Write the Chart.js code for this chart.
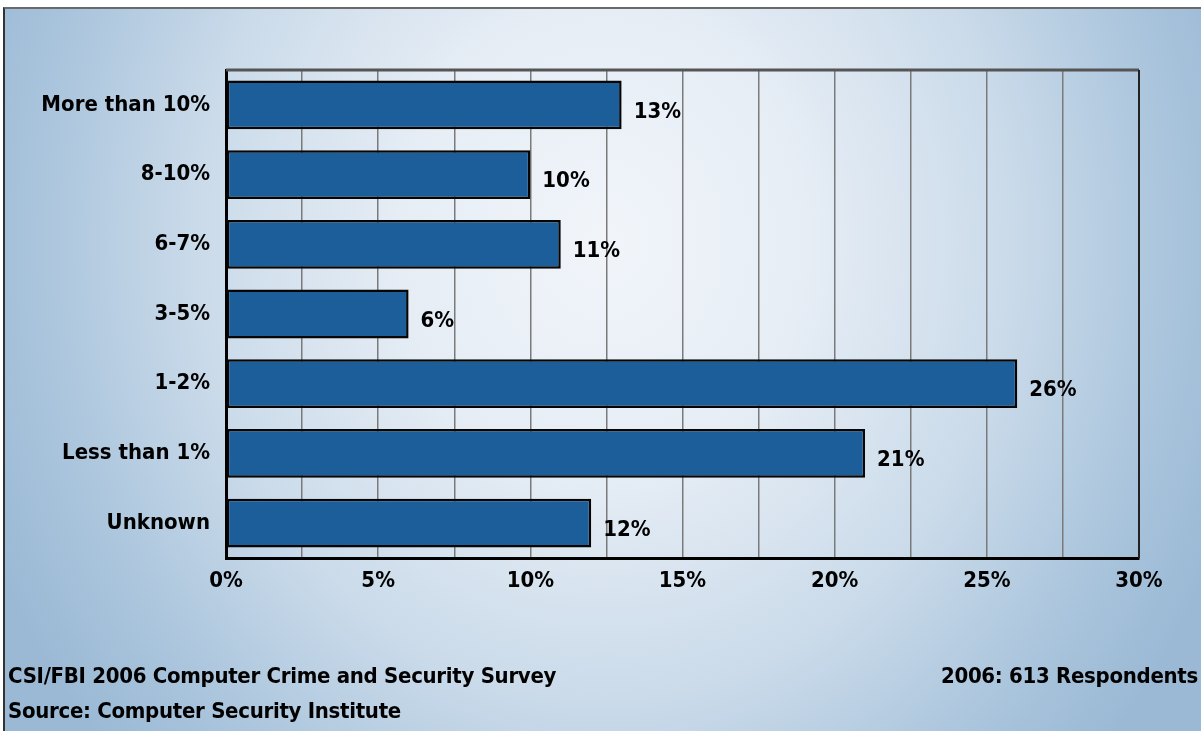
<!DOCTYPE html>
<html>
<head>
<meta charset="utf-8">
<script src="https://cdn.jsdelivr.net/npm/chart.js@4.4.0/dist/chart.umd.min.js"></script>
<style>
  html, body { margin: 0; padding: 0; background: #fff; }
  #frame {
    position: absolute; left: 3px; top: 7px; width: 1198px; height: 724px;
    border-top: 2px solid #6a6a6a; border-left: 2px solid #333;
    background: radial-gradient(ellipse 56% 105% at 50% 32%, #f1f5fa 0%, #e6edf5 30%, #cbdbea 60%, #a9c4dc 85%, #9bb9d5 100%);
    overflow: hidden;
  }
  #chartBox { position: absolute; left: -5px; top: -9px; width: 1201px; height: 731px; }
  .note { position: absolute; font-family: "Liberation Sans Narrow", "DejaVu Sans Condensed", sans-serif;
          font-weight: bold; font-size: 22px; color: #000; white-space: nowrap; letter-spacing: -0.3px; }
</style>
</head>
<body>
<div id="frame">
  <div id="chartBox"><canvas id="lossChart" width="1201" height="731"></canvas></div>
  <div class="note" style="left:3px; top:654px;">CSI/FBI 2006 Computer Crime and Security Survey</div>
  <div class="note" style="left:3px; top:689px;">Source: Computer Security Institute</div>
  <div class="note" style="right:5px; top:654px;">2006: 613 Respondents</div>
</div>
<script>
const categories = ["More than 10%", "8-10%", "6-7%", "3-5%", "1-2%", "Less than 1%", "Unknown"];
const shares = [13, 10, 11, 6, 26, 21, 12];
const tickMax = 30;
const tickStep = 2.5;

const FONT = "'Liberation Sans Narrow', 'DejaVu Sans Condensed', sans-serif";

// value labels to the right of each bar, plus top/right frame of the plot
const barLabels = {
  id: "barLabels",
  afterDatasetsDraw(chart) {
    const ctx = chart.ctx;
    const meta = chart.getDatasetMeta(0);
    ctx.save();
    ctx.font = "bold 22px " + FONT;
    ctx.fillStyle = "#000";
    ctx.textBaseline = "middle";
    meta.data.forEach((bar, i) => {
      ctx.fillText(shares[i] + "%", bar.x + 12, bar.y + 7);
    });
    ctx.restore();
  },
  afterDraw(chart) {
    const a = chart.chartArea;
    const ctx = chart.ctx;
    ctx.save();
    ctx.strokeStyle = "#555";
    ctx.lineWidth = 3;
    ctx.beginPath();
    ctx.moveTo(a.left, a.top);
    ctx.lineTo(a.right, a.top);
    ctx.stroke();
    ctx.strokeStyle = "#222";
    ctx.lineWidth = 2;
    ctx.beginPath();
    ctx.moveTo(a.right, a.top);
    ctx.lineTo(a.right, a.bottom);
    ctx.stroke();
    ctx.restore();
  }
};

new Chart(document.getElementById("lossChart").getContext("2d"), {
  type: "bar",
  data: {
    labels: categories,
    datasets: [{
      data: shares,
      backgroundColor: "#1c5e99",
      borderColor: "#050505",
      borderWidth: 2.5,
      borderSkipped: false,
      barPercentage: 0.7,
      categoryPercentage: 1
    }]
  },
  options: {
    indexAxis: "y",
    responsive: false,
    animation: false,
    layout: { padding: { left: 0, top: 70, right: 62, bottom: 133 } },
    plugins: { legend: { display: false }, tooltip: { enabled: false } },
    scales: {
      x: {
        min: 0, max: tickMax,
        afterFit(scale) { scale.height = 40; },
        ticks: {
          stepSize: tickStep,
          autoSkip: false,
          maxRotation: 0,
          padding: 10,
          color: "#000",
          font: { family: FONT, size: 22, weight: "bold" },
          callback: v => (v % 5 === 0 ? v + "%" : "")
        },
        grid: { color: "#7a7a7a", lineWidth: 1.5, drawTicks: false },
        border: { color: "#000", width: 3 }
      },
      y: {
        afterFit(scale) { scale.width = 226; },
        ticks: {
          padding: 16,
          color: "#000",
          font: { family: FONT, size: 22, weight: "bold" }
        },
        grid: { display: false, drawTicks: false },
        border: { color: "#000", width: 3 }
      }
    }
  },
  plugins: [barLabels]
});
</script>
</body>
</html>
